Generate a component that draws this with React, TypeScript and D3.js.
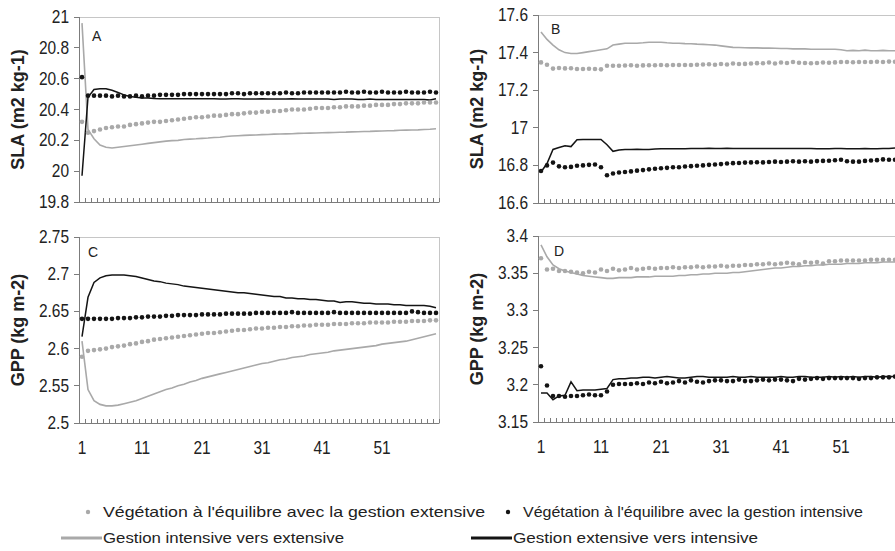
import React from 'react';
import * as d3 from 'd3';

// 60 simulated years, Excel-like category axis
const years = d3.range(1, 61);
const xTickLabels = ['1', '11', '21', '31', '41', '51'];

const slaTicksA = ['19.8', '20', '20.2', '20.4', '20.6', '20.8', '21'];
const slaTicksB = ['16.6', '16.8', '17', '17.2', '17.4', '17.6'];
const gppTicksC = ['2.5', '2.55', '2.6', '2.65', '2.7', '2.75'];
const gppTicksD = ['3.15', '3.2', '3.25', '3.3', '3.35', '3.4'];

// Panel A - SLA
const aGreyDots = [
  20.32, 20.25, 20.26, 20.27, 20.28, 20.285, 20.29, 20.29, 20.30, 20.305,
  20.31, 20.315, 20.32, 20.32, 20.325, 20.33, 20.335, 20.34, 20.345, 20.35,
  20.35, 20.355, 20.36, 20.36, 20.365, 20.37, 20.37, 20.375, 20.38, 20.38,
  20.385, 20.385, 20.39, 20.39, 20.395, 20.40, 20.40, 20.40, 20.405, 20.41,
  20.41, 20.41, 20.415, 20.415, 20.42, 20.42, 20.42, 20.425, 20.425, 20.43,
  20.43, 20.43, 20.435, 20.435, 20.44, 20.44, 20.44, 20.445, 20.445, 20.445,
];
const aBlackDots = [
  20.61, 20.49, 20.49, 20.49, 20.49, 20.485, 20.49, 20.485, 20.485, 20.49,
  20.485, 20.49, 20.49, 20.495, 20.495, 20.495, 20.495, 20.50, 20.50, 20.50,
  20.50, 20.50, 20.50, 20.50, 20.50, 20.505, 20.505, 20.50, 20.505, 20.505,
  20.505, 20.505, 20.505, 20.505, 20.51, 20.505, 20.505, 20.51, 20.51, 20.51,
  20.51, 20.51, 20.51, 20.51, 20.515, 20.51, 20.51, 20.515, 20.51, 20.51,
  20.515, 20.51, 20.51, 20.51, 20.515, 20.51, 20.51, 20.51, 20.515, 20.51,
];
const aGreyLine = [
  20.96, 20.27, 20.21, 20.17, 20.155, 20.15, 20.155, 20.16, 20.165, 20.17,
  20.175, 20.18, 20.185, 20.19, 20.195, 20.198, 20.20, 20.205, 20.208, 20.21,
  20.213, 20.215, 20.218, 20.22, 20.225, 20.228, 20.23, 20.232, 20.234, 20.235,
  20.237, 20.238, 20.24, 20.241, 20.242, 20.243, 20.245, 20.246, 20.247, 20.248,
  20.249, 20.25, 20.251, 20.252, 20.253, 20.255, 20.256, 20.257, 20.258, 20.26,
  20.261, 20.262, 20.263, 20.265, 20.266, 20.267, 20.268, 20.27, 20.272, 20.275,
];
const aBlackLine = [
  19.97, 20.48, 20.53, 20.535, 20.535, 20.525, 20.51, 20.495, 20.485, 20.48,
  20.475, 20.475, 20.472, 20.47, 20.47, 20.47, 20.47, 20.47, 20.47, 20.47,
  20.47, 20.47, 20.47, 20.468, 20.468, 20.47, 20.47, 20.468, 20.468, 20.468,
  20.47, 20.468, 20.468, 20.468, 20.468, 20.47, 20.468, 20.468, 20.468, 20.468,
  20.468, 20.468, 20.465, 20.468, 20.468, 20.468, 20.465, 20.465, 20.468, 20.465,
  20.465, 20.465, 20.465, 20.465, 20.465, 20.465, 20.465, 20.465, 20.462, 20.47,
];

// Panel B - SLA
const bGreyDots = [
  17.348, 17.335, 17.315, 17.318, 17.316, 17.317, 17.313, 17.313, 17.314, 17.313,
  17.311, 17.33, 17.33, 17.33, 17.331, 17.333, 17.33, 17.332, 17.333, 17.333,
  17.334, 17.333, 17.334, 17.334, 17.334, 17.334, 17.335, 17.337, 17.338, 17.335,
  17.339, 17.337, 17.342, 17.339, 17.34, 17.342, 17.344, 17.343, 17.347, 17.342,
  17.347, 17.345, 17.35, 17.346, 17.345, 17.343, 17.345, 17.347, 17.346, 17.348,
  17.35, 17.35, 17.349, 17.35, 17.35, 17.35, 17.351, 17.35, 17.352, 17.351,
];
const bBlackDots = [
  16.77, 16.80, 16.815, 16.795, 16.79, 16.792, 16.798, 16.80, 16.803, 16.805,
  16.79, 16.748, 16.757, 16.762, 16.765, 16.768, 16.772, 16.775, 16.779, 16.782,
  16.785, 16.787, 16.79, 16.79, 16.794, 16.796, 16.798, 16.80, 16.803, 16.805,
  16.807, 16.81, 16.812, 16.813, 16.815, 16.816, 16.817, 16.816, 16.818, 16.82,
  16.818, 16.82, 16.822, 16.82, 16.822, 16.82, 16.823, 16.824, 16.825, 16.827,
  16.83, 16.822, 16.82, 16.82, 16.824, 16.826, 16.828, 16.832, 16.83, 16.83,
];
const bGreyLine = [
  17.51, 17.47, 17.44, 17.415, 17.40, 17.395, 17.395, 17.40, 17.405, 17.41,
  17.415, 17.42, 17.44, 17.445, 17.45, 17.45, 17.45, 17.452, 17.455, 17.455,
  17.455, 17.452, 17.45, 17.45, 17.448, 17.447, 17.445, 17.444, 17.442, 17.44,
  17.436, 17.432, 17.428, 17.427, 17.426, 17.425, 17.425, 17.424, 17.424, 17.423,
  17.422, 17.422, 17.42, 17.42, 17.42, 17.418, 17.418, 17.418, 17.418, 17.418,
  17.415, 17.41, 17.412, 17.41, 17.413, 17.41, 17.41, 17.412, 17.41, 17.41,
];
const bBlackLine = [
  16.765, 16.81, 16.885, 16.895, 16.905, 16.90, 16.937, 16.938, 16.938, 16.938,
  16.938, 16.91, 16.875, 16.882, 16.884, 16.885, 16.886, 16.885, 16.885, 16.887,
  16.888, 16.888, 16.889, 16.888, 16.889, 16.89, 16.89, 16.89, 16.891, 16.89,
  16.89, 16.891, 16.89, 16.89, 16.89, 16.89, 16.89, 16.89, 16.89, 16.89,
  16.89, 16.89, 16.89, 16.89, 16.89, 16.89, 16.888, 16.888, 16.888, 16.89,
  16.89, 16.888, 16.888, 16.888, 16.89, 16.888, 16.888, 16.89, 16.89, 16.892,
];

// Panel C - GPP
const cGreyDots = [
  2.589, 2.597, 2.598, 2.599, 2.60, 2.602, 2.603, 2.604, 2.606, 2.607,
  2.609, 2.61, 2.612, 2.613, 2.614, 2.615, 2.616, 2.617, 2.618, 2.619,
  2.62, 2.621, 2.621, 2.622, 2.623, 2.624, 2.625, 2.625, 2.626, 2.627,
  2.627, 2.628, 2.628, 2.629, 2.629, 2.63, 2.63, 2.631, 2.631, 2.632,
  2.632, 2.632, 2.633, 2.633, 2.633, 2.634, 2.634, 2.634, 2.635, 2.635,
  2.635, 2.635, 2.636, 2.636, 2.636, 2.637, 2.637, 2.637, 2.638, 2.638,
];
const cBlackDots = [
  2.64, 2.64, 2.64, 2.64, 2.64, 2.64, 2.641, 2.641, 2.641, 2.642,
  2.642, 2.643, 2.643, 2.643, 2.644, 2.644, 2.645, 2.645, 2.645, 2.645,
  2.646, 2.646, 2.646, 2.646, 2.647, 2.647, 2.647, 2.647, 2.647, 2.648,
  2.648, 2.648, 2.648, 2.648, 2.648, 2.649, 2.648, 2.648, 2.648, 2.648,
  2.648, 2.648, 2.649, 2.648, 2.648, 2.648, 2.648, 2.648, 2.648, 2.648,
  2.648, 2.648, 2.648, 2.648, 2.648, 2.65, 2.649, 2.648, 2.648, 2.648,
];
const cGreyLine = [
  2.61, 2.545, 2.53, 2.525, 2.523, 2.523, 2.524, 2.526, 2.528, 2.53,
  2.533, 2.536, 2.539, 2.542, 2.545, 2.547, 2.55, 2.552, 2.555, 2.557,
  2.56, 2.562, 2.564, 2.566, 2.568, 2.57, 2.572, 2.574, 2.576, 2.578,
  2.58, 2.581, 2.583, 2.585, 2.586, 2.588, 2.589, 2.59, 2.592, 2.593,
  2.594, 2.595, 2.597, 2.598, 2.599, 2.60, 2.601, 2.602, 2.603, 2.604,
  2.606, 2.607, 2.608, 2.609, 2.61, 2.612, 2.614, 2.616, 2.618, 2.62,
];
const cBlackLine = [
  2.616, 2.669, 2.689, 2.695, 2.698, 2.699, 2.699, 2.699, 2.698, 2.697,
  2.695, 2.693, 2.691, 2.69, 2.688, 2.687, 2.686, 2.684, 2.683, 2.682,
  2.681, 2.68, 2.679, 2.678, 2.677, 2.676, 2.675, 2.675, 2.674, 2.673,
  2.672, 2.671, 2.67, 2.67, 2.668, 2.668, 2.667, 2.667, 2.666, 2.666,
  2.665, 2.664, 2.664, 2.662, 2.663, 2.663, 2.662, 2.661, 2.661, 2.66,
  2.66, 2.66, 2.659, 2.659, 2.658, 2.658, 2.658, 2.658, 2.657, 2.655,
];

// Panel D - GPP
const dGreyDots = [
  3.37, 3.355, 3.356, 3.353, 3.353, 3.352, 3.351, 3.35, 3.352, 3.351,
  3.355, 3.353, 3.356, 3.354, 3.355, 3.357, 3.355, 3.356, 3.357, 3.356,
  3.357, 3.357, 3.358, 3.357, 3.358, 3.358, 3.359, 3.358, 3.359, 3.359,
  3.36, 3.359, 3.36, 3.36, 3.361, 3.361, 3.362, 3.362, 3.363, 3.362,
  3.363, 3.364, 3.363, 3.362, 3.365, 3.364, 3.365, 3.363, 3.366, 3.366,
  3.367, 3.367, 3.367, 3.367, 3.367, 3.368, 3.368, 3.368, 3.368, 3.368,
];
const dBlackDots = [
  3.225, 3.199, 3.185, 3.185, 3.184, 3.185, 3.185, 3.186, 3.187, 3.186,
  3.186, 3.191, 3.20, 3.201, 3.201, 3.201, 3.202, 3.201, 3.203, 3.202,
  3.204, 3.202, 3.203, 3.205, 3.203, 3.206, 3.204, 3.203, 3.205, 3.206,
  3.206, 3.205, 3.205, 3.207, 3.205, 3.205, 3.206, 3.207, 3.206, 3.207,
  3.207, 3.206, 3.205, 3.208, 3.207, 3.208, 3.209, 3.208, 3.209, 3.209,
  3.209, 3.209, 3.209, 3.208, 3.209, 3.209, 3.21, 3.21, 3.21, 3.211,
];
const dGreyLine = [
  3.388, 3.372, 3.361, 3.356, 3.353, 3.351, 3.349, 3.347, 3.346, 3.345,
  3.344, 3.343, 3.343, 3.344, 3.344, 3.344, 3.345, 3.345, 3.345, 3.346,
  3.346, 3.346, 3.346, 3.347, 3.347, 3.348, 3.348, 3.349, 3.349, 3.35,
  3.35, 3.35, 3.351, 3.351, 3.352, 3.353, 3.354, 3.355, 3.356, 3.357,
  3.357, 3.358, 3.359, 3.359, 3.36, 3.36, 3.361, 3.361, 3.362, 3.362,
  3.362, 3.363, 3.363, 3.363, 3.364, 3.364, 3.364, 3.365, 3.365, 3.365,
];
const dBlackLine = [
  3.189, 3.189, 3.18, 3.185, 3.186, 3.204, 3.192, 3.193, 3.193, 3.193,
  3.194, 3.195, 3.207, 3.208, 3.208, 3.209, 3.209, 3.21, 3.21, 3.209,
  3.21, 3.211, 3.21, 3.209, 3.209, 3.21, 3.211, 3.211, 3.21, 3.21,
  3.21, 3.21, 3.211, 3.21, 3.21, 3.211, 3.21, 3.21, 3.21, 3.21,
  3.211, 3.21, 3.21, 3.211, 3.211, 3.21, 3.21, 3.21, 3.211, 3.21,
  3.211, 3.21, 3.211, 3.21, 3.211, 3.211, 3.21, 3.211, 3.211, 3.211,
];

const legendDots = [
  "Végétation à l'équilibre avec la gestion extensive",
  "Végétation à l'équilibre avec la gestion intensive",
];
const legendLines = ['Gestion intensive vers extensive', 'Gestion extensive vers intensive'];

const GREY = '#a9a9a9';
const BLACK = '#141414';
const FONT = 'Liberation Sans, Arial, sans-serif';

type PanelProps = {
  x0: number; x1: number; y0: number; y1: number;
  ticks: string[]; title: string;
  letter: string; lx: number; ly: number;
  greyDots: number[]; blackDots: number[]; greyLine: number[]; blackLine: number[];
  labels: boolean;
};

function Panel(p: PanelProps) {
  const x = d3.scaleBand<number>().domain(years).range([p.x0, p.x1]);
  const cx = (i: number) => (x(years[i]) as number) + x.bandwidth() / 2;
  const vals = p.ticks.map(Number);
  const y = d3.scaleLinear().domain([vals[0], vals[vals.length - 1]]).range([p.y1, p.y0]);
  const line = d3.line<number>().x((_, i) => cx(i)).y((d) => y(d));
  const bounds = years.map((v) => x(v) as number).concat([p.x1]);

  return (
    <g>
      <rect x={p.x0} y={p.y0} width={p.x1 - p.x0} height={p.y1 - p.y0}
        fill="none" stroke="#c6c6c6" shapeRendering="crispEdges" />
      <line x1={p.x0} x2={p.x0} y1={p.y0} y2={p.y1} stroke="#7c7c7c" shapeRendering="crispEdges" />
      <line x1={p.x0} x2={p.x1} y1={p.y1} y2={p.y1} stroke="#7c7c7c" shapeRendering="crispEdges" />
      {bounds.map((b, i) => (
        <line key={'xt' + i} x1={b} x2={b} y1={p.y1} y2={p.y1 - 4} stroke="#7c7c7c" shapeRendering="crispEdges" />
      ))}
      {vals.map((v, i) => (
        <g key={'yt' + i}>
          <line x1={p.x0 - 5} x2={p.x0} y1={y(v)} y2={y(v)} stroke="#7c7c7c" shapeRendering="crispEdges" />
          <text transform={`translate(${p.x0 - 10},${y(v) + 6}) scale(0.86,1)`}
            textAnchor="end" fontSize={18} fill="#222" fontFamily={FONT}>{p.ticks[i]}</text>
        </g>
      ))}
      {p.labels && xTickLabels.map((l) => (
        <text key={'xl' + l} transform={`translate(${cx(Number(l) - 1)},${p.y1 + 31}) scale(0.86,1)`}
          textAnchor="middle" fontSize={18} fill="#222" fontFamily={FONT}>{l}</text>
      ))}
      <text transform={`translate(${p.x0 - 55},${(p.y0 + p.y1) / 2}) rotate(-90)`}
        textAnchor="middle" fontSize={18} fontWeight="bold" fill="#222" fontFamily={FONT}>{p.title}</text>
      <text x={p.x0 + p.lx} y={p.y0 + p.ly} fontSize={14} fill="#222" fontFamily={FONT}>{p.letter}</text>

      <path d={line(p.greyLine) as string} fill="none" stroke={GREY} strokeWidth={1.6} />
      <path d={line(p.blackLine) as string} fill="none" stroke={BLACK} strokeWidth={1.5} />
      {p.greyDots.map((v, i) => (
        <circle key={'gd' + i} cx={cx(i)} cy={y(v)} r={2.3} fill={GREY} />
      ))}
      {p.blackDots.map((v, i) => (
        <circle key={'bd' + i} cx={cx(i)} cy={y(v)} r={2.3} fill={BLACK} />
      ))}
    </g>
  );
}

export default function App() {
  return (
    <svg width={895} height={551} style={{ position: 'absolute', left: 0, top: 0, background: '#fff' }}>
      <Panel x0={79} x1={439} y0={17} y1={202} ticks={slaTicksA} title="SLA (m2 kg-1)"
        letter="A" lx={13} ly={24}
        greyDots={aGreyDots} blackDots={aBlackDots} greyLine={aGreyLine} blackLine={aBlackLine} labels={false} />
      <Panel x0={538} x1={898} y0={15} y1={203} ticks={slaTicksB} title="SLA (m2 kg-1)"
        letter="B" lx={13} ly={19}
        greyDots={bGreyDots} blackDots={bBlackDots} greyLine={bGreyLine} blackLine={bBlackLine} labels={false} />
      <Panel x0={79} x1={439} y0={237} y1={423} ticks={gppTicksC} title="GPP (kg m-2)"
        letter="C" lx={9} ly={20}
        greyDots={cGreyDots} blackDots={cBlackDots} greyLine={cGreyLine} blackLine={cBlackLine} labels={true} />
      <Panel x0={538} x1={898} y0={236} y1={422} ticks={gppTicksD} title="GPP (kg m-2)"
        letter="D" lx={16} ly={20}
        greyDots={dGreyDots} blackDots={dBlackDots} greyLine={dGreyLine} blackLine={dBlackLine} labels={true} />

      <g fontFamily={FONT} fontSize={15} fill="#222">
        <circle cx={88} cy={512} r={2.2} fill={GREY} />
        <text x={103} y={517} textLength={382} lengthAdjust="spacingAndGlyphs">{legendDots[0]}</text>
        <circle cx={508} cy={512} r={2.2} fill={BLACK} />
        <text x={523} y={517} textLength={340} lengthAdjust="spacingAndGlyphs">{legendDots[1]}</text>
        <line x1={61} x2={102} y1={538} y2={538} stroke={GREY} strokeWidth={3} />
        <text x={103} y={543} textLength={241} lengthAdjust="spacingAndGlyphs">{legendLines[0]}</text>
        <line x1={471} x2={512} y1={538} y2={538} stroke={BLACK} strokeWidth={3} />
        <text x={513} y={543} textLength={245} lengthAdjust="spacingAndGlyphs">{legendLines[1]}</text>
      </g>
    </svg>
  );
}
